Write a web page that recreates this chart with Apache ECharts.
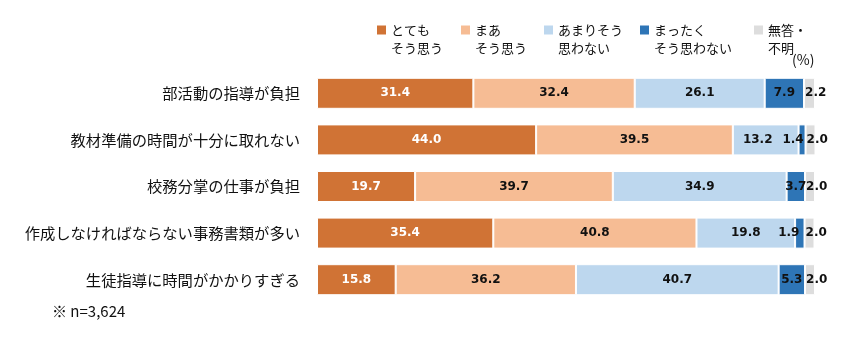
<!DOCTYPE html>
<html><head><meta charset="utf-8">
<script src="https://cdn.jsdelivr.net/npm/echarts@6/dist/echarts.min.js"></script>
<style>html,body{margin:0;padding:0;background:#fff}#c{width:852px;height:344px}</style>
</head><body><div id="c"></div>
<script>
const categories = ['部活動の指導が負担','教材準備の時間が十分に取れない','校務分掌の仕事が負担','作成しなければならない事務書類が多い','生徒指導に時間がかかりすぎる'];
const seriesNames = ['とても\nそう思う','まあ\nそう思う','あまりそう\n思わない','まったく\nそう思わない','無答・\n不明'];
const totemo = [31.4, 44.0, 19.7, 35.4, 15.8];
const maa = [32.4, 39.5, 39.7, 40.8, 36.2];
const amari = [26.1, 13.2, 34.9, 19.8, 40.7];
const mattaku = [7.9, 1.4, 3.7, 1.9, 5.3];
const muto = [2.2, 2.0, 2.0, 2.0, 2.0];
const colors = ['#D07335','#F6BC94','#BDD7EE','#2E75B6','#DDDDDD'];
const values = [totemo, maa, amari, mattaku, muto];
const legendLeft = [372, 456, 539, 635, 749];

const chart = echarts.init(document.getElementById('c'));
const labelBase = {show:true, fontFamily:'DejaVu Sans', fontWeight:'bold', fontSize:12, color:'#111', formatter: p => p.value.toFixed(1)};
const series = values.map((vals, i) => {
  const s = {
    name: seriesNames[i], type:'bar', stack:'t', barWidth:31,
    itemStyle:{color:colors[i], borderColor:'#fff', borderWidth:1},
    label: Object.assign({}, labelBase, {position:'inside'}),
    data: vals.map(v => ({value:v}))
  };
  if (i === 0) s.label.color = '#fff';
  if (i === 2) {
    s.data = vals.map(v => {
      const d = {value:v};
      if (v < 15) d.label = {offset:[-8, 0]};
      return d;
    });
  }
  if (i === 3) {
    s.data = vals.map(v => {
      const d = {value:v};
      if (v < 2.5) d.label = {offset:[v < 1.6 ? -9 : -11, 0]};
      return d;
    });
  }
  if (i === 4) { s.label.position = 'insideLeft'; s.label.distance = 1; }
  return s;
});

chart.setOption({
  animation:false,
  textStyle:{fontFamily:'"Noto Sans CJK JP", sans-serif'},
  legend: seriesNames.map((n, i) => ({
    data:[n], left:legendLeft[i], top:-2, itemWidth:9, itemHeight:9, icon:'rect',
    selectedMode:false, itemGap:0,
    formatter: name => '\n' + name,
    itemStyle:{borderWidth:0},
    textStyle:{fontSize:13, lineHeight:18, color:'#111', fontFamily:'"Noto Sans CJK JP", sans-serif'}
  })),
  grid:{left:317, right:37, top:70, bottom:41, containLabel:false},
  xAxis:{type:'value', min:0, max:100, show:false},
  yAxis:{type:'category', data:categories, inverse:true,
    axisLine:{show:false}, axisTick:{show:false},
    axisLabel:{fontSize:15.3, color:'#111', margin:17, fontFamily:'"Noto Sans CJK JP", sans-serif'}},
  graphic:[
    {type:'text', left:792, top:53, style:{text:'(%)', fontSize:14, fill:'#111', fontFamily:'"Noto Sans CJK JP", sans-serif'}},
    {type:'text', left:52, top:304, style:{text:'※ n=3,624', fontSize:15, fill:'#111', fontFamily:'"Noto Sans CJK JP", sans-serif'}}
  ],
  series: series
});
</script></body></html>
